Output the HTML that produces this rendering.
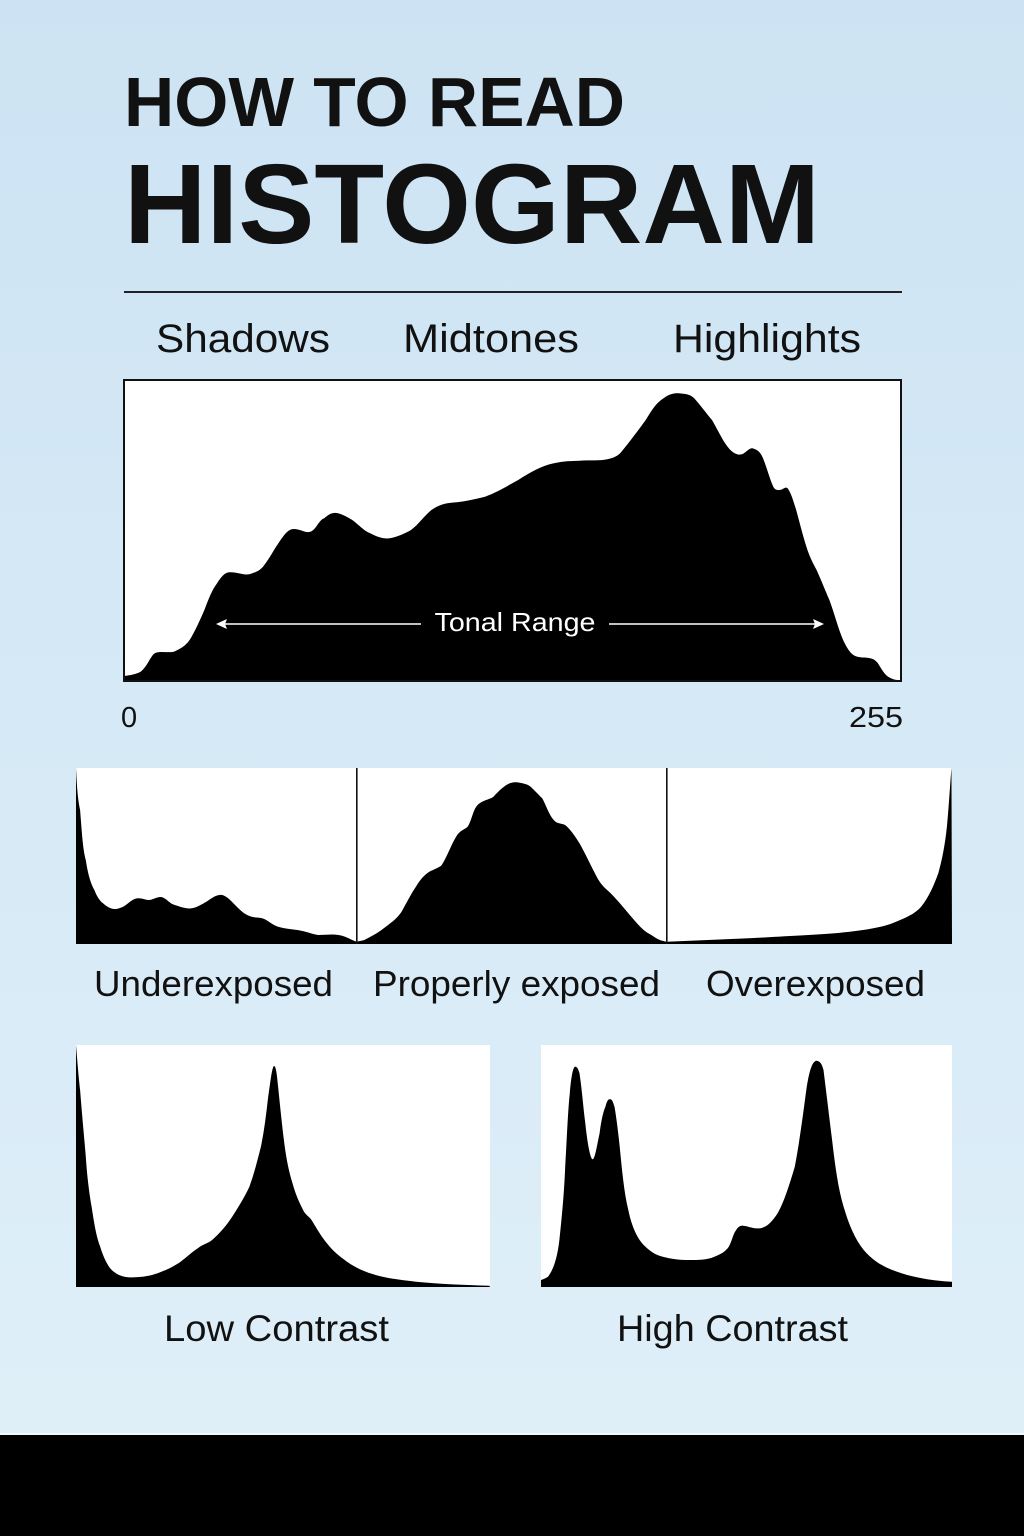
<!DOCTYPE html>
<html><head><meta charset="utf-8"><style>
html,body{margin:0;padding:0;width:1024px;height:1536px;overflow:hidden;}
svg{display:block;}
text{font-family:"Liberation Sans",sans-serif;fill:#111;}
</style></head><body>
<svg width="1024" height="1536" viewBox="0 0 1024 1536" xmlns="http://www.w3.org/2000/svg">
<defs>
<linearGradient id="bg" x1="0" y1="0" x2="0" y2="1">
<stop offset="0" stop-color="#cde3f3"/>
<stop offset="1" stop-color="#e0f0f9"/>
</linearGradient>
</defs>
<rect x="0" y="0" width="1024" height="1536" fill="url(#bg)"/>

<!-- Title -->
<text x="124" y="126" font-size="70" font-weight="bold" textLength="501" lengthAdjust="spacingAndGlyphs">HOW TO READ</text>
<text x="124" y="243" font-size="113" font-weight="bold" textLength="696" lengthAdjust="spacingAndGlyphs">HISTOGRAM</text>
<rect x="124" y="291" width="778" height="2" fill="#222"/>

<text x="156" y="352" font-size="40" textLength="174" lengthAdjust="spacingAndGlyphs">Shadows</text>
<text x="403" y="352" font-size="40" textLength="176" lengthAdjust="spacingAndGlyphs">Midtones</text>
<text x="673" y="352" font-size="40" textLength="188" lengthAdjust="spacingAndGlyphs">Highlights</text>

<!-- Main histogram -->
<rect x="124" y="380" width="777" height="301" fill="#fff"/>
<path fill="#000" d="M124,681 L124,676 C132,675 136,674 140.6,671.7 C148,666 151,654 155.9,652.7 C162,651 168,653 173.8,651.7 C182,648 187,645 191.6,636.7 C197,627 200,620 204.4,610 C209,598 212,590 217.1,583.3 C221,577 225,572 229.9,572.3 C238,572 244,576 250.3,574 C256,572 259,571 263,566.7 C270,558 273,551 278.4,543.3 C284,535 288,529 293.7,529 C301,529 306,534 311.5,531.3 C317,528 319,520 324.3,518.3 C329,514 333,512 338,513.3 C344,515 347,517 352.3,520 C359,525 364,531 370.2,533.3 C377,537 383,539 389.6,538.3 C397,537 404,534 411,530 C419,524 424,516 431.4,510 C440,504 447,503 456.9,502.3 C467,501 476,499 485,496.7 C498,492 507,486 518.2,480 C531,472 541,466 553.9,463.3 C563,461 571,461 579.4,460.7 C590,460 600,461 607.4,459.3 C613,458 616,457 620.2,453.3 C628,444 637,432 645.7,420 C652,410 656,403 663.6,398.3 C669,394 674,393 678.9,393.3 C685,394 690,394 694.2,398.3 C701,406 706,413 712,420 C719,432 725,446 732.4,451.7 C737,455 740,455 742.7,454 C748,451 750,447 753.9,448.7 C758,450 761,453 763,458.3 C767,468 770,480 773.3,486.7 C775,490 777,490 779.4,490 C783,490 785,486 787.6,488.3 C791,493 793,500 796.2,510 C800,524 803,536 806.4,546.7 C810,558 813,563 816.6,570 C822,582 825,590 829.4,600 C835,615 839,632 844.7,643.3 C849,652 853,656 857.5,656.7 C863,658 866,657 870.2,658.3 C874,659 876,661 877.9,663.3 C881,668 884,674 888.1,676.7 C892,679 895,680 898,680 L901,681 Z"/>
<rect x="124" y="380" width="777" height="301" fill="none" stroke="#111" stroke-width="2"/>

<!-- Tonal range arrow -->
<line x1="224" y1="624" x2="421" y2="624" stroke="#fff" stroke-width="1.6"/>
<line x1="609" y1="624" x2="816" y2="624" stroke="#fff" stroke-width="1.6"/>
<path d="M216,624 L227,619 L225,624 L227,629 Z" fill="#fff"/>
<path d="M824,624 L813,619 L815,624 L813,629 Z" fill="#fff"/>
<text x="515" y="631" font-size="26" text-anchor="middle" style="fill:#fff" textLength="161" lengthAdjust="spacingAndGlyphs">Tonal Range</text>

<text x="121" y="727" font-size="29">0</text>
<text x="903" y="727" font-size="29" text-anchor="end" textLength="54" lengthAdjust="spacingAndGlyphs">255</text>

<!-- Three panels -->
<rect x="76" y="768" width="876" height="176" fill="#fff"/>
<path fill="#000" d="M76,944 L76,767.5 C77,790 78,800 80.1,810 C82,835 83,850 85.8,860 C88,875 91,884 94.4,890 C97,897 100,901 103,903.3 C107,907 111,909 114.5,909 C118,909 120,908 123.1,906.7 C128,904 132,899 137.5,898.3 C142,898 145,900 149,900 C153,900 158,896 162.2,897.3 C167,899 170,904 174.8,905 C181,907 186,909 192,908.3 C198,907 202,904 206.4,901.7 C212,898 217,894 222.5,895 C228,897 231,901 235.1,905 C240,910 244,914 249.4,916 C254,918 258,917 262.1,918.3 C268,920 272,925 278.1,926.7 C286,929 293,929 301.1,930.7 C308,932 312,934 318.3,935 C326,935 332,934 338.4,935 C346,936 351,940 356.8,941.7 L356.8,944 Z"/>
<path fill="#000" d="M356.8,944 L356.8,941.7 C359,941 361,941 364.3,940 C370,937 376,934 381.5,930 C389,924 396,920 401.6,911.7 C407,902 411,894 415.9,886.7 C421,878 427,872 433.1,870 C437,868 440,867 441.7,865 C447,857 451,845 456.1,836.7 C460,830 464,830 467.6,826.7 C471,822 473,811 476.2,806.7 C481,800 489,800 493.4,796.7 C497,793 499,791 502,788.3 C507,784 511,782 516.4,782.3 C522,783 527,784 530.7,786.7 C535,791 539,795 542.2,798.3 C546,805 549,815 553.7,820 C557,824 561,823 565.2,825 C570,829 575,836 579.5,843.3 C586,855 591,866 596.7,876.7 C602,887 608,890 614,896.7 C621,904 627,912 634.1,920 C640,927 645,932 651.3,935 C657,939 661,941 666.8,941.7 L666.8,944 Z"/>
<path fill="#000" d="M666.8,944 L666.8,941.7 L748.9,938.3 C790,936 815,935 835,933.3 C860,931 880,928 892.4,923.3 C905,918 915,914 921.1,906.7 C929,897 934,885 938.3,873.3 C942,860 945,845 946.9,826.7 C949,805 950,785 951.5,767.5 L952,944 Z"/>
<rect x="356" y="768" width="1.6" height="176" fill="#111"/>
<rect x="666" y="768" width="1.6" height="176" fill="#111"/>

<text x="213.5" y="996" font-size="36" text-anchor="middle" textLength="239" lengthAdjust="spacingAndGlyphs">Underexposed</text>
<text x="516.5" y="996" font-size="36" text-anchor="middle" textLength="287" lengthAdjust="spacingAndGlyphs">Properly exposed</text>
<text x="815.5" y="996" font-size="36" text-anchor="middle" textLength="219" lengthAdjust="spacingAndGlyphs">Overexposed</text>

<!-- Low contrast -->
<rect x="76" y="1045" width="414" height="242" fill="#fff"/>
<path fill="#000" d="M76,1287 L76,1045 C78,1070 79,1080 80.1,1090 C82,1115 84,1135 85.8,1156.7 C87,1175 89,1192 91.6,1206.7 C94,1222 96,1236 100.2,1246.7 C103,1256 107,1265 111.7,1270 C118,1276 126,1278 134.6,1277.3 C143,1277 150,1276 157.6,1273.3 C166,1270 173,1267 180.6,1261.7 C187,1257 192,1252 197.8,1248.3 C203,1244 207,1244 212.1,1240 C220,1233 226,1226 232.2,1216.7 C239,1206 244,1198 249.4,1186.7 C254,1174 257,1162 260.9,1146.7 C264,1132 266,1116 267.8,1100 C270,1085 272,1066 274.1,1066 C276,1066 277,1075 278.1,1086.7 C280,1105 282,1125 283.9,1140 C286,1158 289,1172 292.5,1183.3 C296,1196 300,1204 304,1211.7 C307,1216 310,1217 312.6,1221.7 C317,1229 321,1236 326.9,1243.3 C333,1251 339,1256 347,1261.7 C356,1268 365,1272 375.7,1275 C390,1279 402,1280 415.9,1281.7 C440,1284 465,1285 489.4,1285.7 L490,1287 Z"/>

<!-- High contrast -->
<rect x="541" y="1045" width="411" height="242" fill="#fff"/>
<path fill="#000" d="M541,1287 L541,1280 C544,1279 546,1278 548,1276.7 C553,1270 557,1260 559.4,1240 C562,1215 564,1195 565.2,1166.7 C567,1135 568,1110 569.8,1093.3 C571,1078 573,1066 575.5,1066.7 C577,1067 578,1068 579.5,1073.3 C582,1090 583,1105 585.3,1123.3 C587,1140 590,1159 592.7,1159.3 C595,1159 597,1145 599.6,1133.3 C601,1122 603,1112 605.4,1106.7 C607,1101 608,1099 610,1099.3 C612,1099 613,1102 614.5,1106.7 C616,1115 618,1130 619.7,1146.7 C622,1170 624,1192 628.3,1210 C632,1228 638,1240 645.5,1246.7 C651,1252 656,1255 662.8,1256.7 C671,1259 680,1260 688.6,1260 C698,1260 707,1260 714.4,1256.7 C721,1254 725,1252 728.8,1246.7 C732,1241 733,1234 736.2,1230 C738,1227 740,1225.5 743.1,1225.7 C748,1226 753,1229 760.4,1228.3 C767,1227 772,1222 777.6,1213.3 C784,1202 789,1186 794.8,1166.7 C799,1145 803,1115 806.3,1090 C809,1072 812,1061 816.6,1060.7 C820,1061 822,1064 823.5,1070 C826,1090 829,1115 832.1,1140 C835,1165 838,1188 843.6,1206.7 C849,1225 855,1239 863.7,1250 C872,1260 882,1266 892.4,1270 C905,1275 918,1278 932.6,1280 C940,1281 946,1281.5 952,1281.7 L952,1287 Z"/>

<text x="276.5" y="1341" font-size="37" text-anchor="middle" textLength="225" lengthAdjust="spacingAndGlyphs">Low Contrast</text>
<text x="732.5" y="1341" font-size="37" text-anchor="middle" textLength="231" lengthAdjust="spacingAndGlyphs">High Contrast</text>

<!-- bottom bar -->
<rect x="0" y="1433" width="1024" height="2" fill="#f2f9fc"/>
<rect x="0" y="1435" width="1024" height="101" fill="#000"/>
</svg>
</body></html>
